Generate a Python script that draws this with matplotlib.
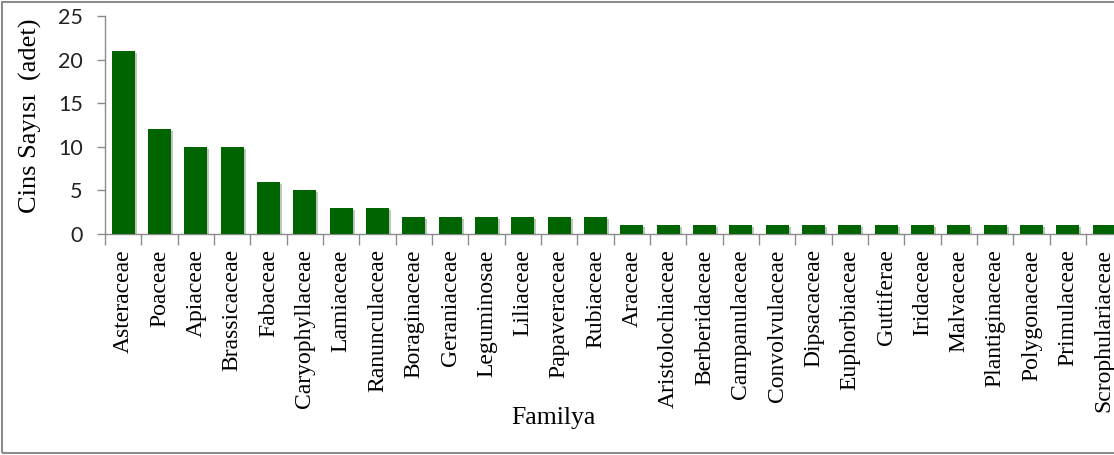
import matplotlib
matplotlib.use("Agg")
import matplotlib.pyplot as plt
import matplotlib.patheffects as pe
from matplotlib.patches import Rectangle

familya = ["Asteraceae", "Poaceae", "Apiaceae", "Brassicaceae", "Fabaceae",
           "Caryophyllaceae", "Lamiaceae", "Ranunculaceae", "Boraginaceae",
           "Geraniaceae", "Leguminosae", "Liliaceae", "Papaveraceae", "Rubiaceae",
           "Araceae", "Aristolochiaceae", "Berberidaceae", "Campanulaceae",
           "Convolvulaceae", "Dipsacaceae", "Euphorbiaceae", "Guttiferae",
           "Iridaceae", "Malvaceae", "Plantiginaceae", "Polygonaceae",
           "Primulaceae", "Scrophulariaceae"]
cins_sayisi = [21, 12, 10, 10, 6, 5, 3, 3, 2, 2, 2, 2, 2, 2,
               1, 1, 1, 1, 1, 1, 1, 1, 1, 1, 1, 1, 1, 1]
y_ticks = [0, 5, 10, 15, 20, 25]

W, H = 1114, 455
fig = plt.figure(figsize=(W / 100, H / 100), dpi=100)

# border around the whole figure (right side is cut off like the original)
fig.patches.append(Rectangle((2 / W, 2 / H), 1.2, 1 - 4 / H, transform=fig.transFigure,
                             fill=False, edgecolor="#8c8c8c", linewidth=1.5))

n = len(familya)
step = 36.33
ax = fig.add_axes([105 / W, (H - 234) / H, n * step / W, 218 / H])

x = list(range(n))
ax.bar(x, cins_sayisi, width=0.63, color="#006400", zorder=3,
       path_effects=[pe.SimplePatchShadow(offset=(1.5, -1.5), alpha=0.25), pe.Normal()])

ax.set_xlim(-0.5, n - 0.5)
ax.set_ylim(0, 25)
ax.set_yticks(y_ticks)
ax.set_yticklabels([str(v) for v in y_ticks], fontfamily="Lato", fontsize=15.5, color="#222222")

ax.set_xticks([i - 0.5 for i in range(n + 1)])
ax.set_xticklabels([])
ax.set_xticks(x, minor=True)
ax.set_xticklabels(familya, minor=True, rotation=90, fontfamily="Liberation Serif",
                   fontsize=17, va="top", ha="center")
ax.tick_params(axis="x", which="major", length=8, color="#8c8c8c", width=1)
ax.tick_params(axis="x", which="minor", length=0, pad=11)
ax.tick_params(axis="y", length=6, color="#8c8c8c", width=1, pad=10)

for s in ["top", "right"]:
    ax.spines[s].set_visible(False)
for s in ["left", "bottom"]:
    ax.spines[s].set_color("#8c8c8c")
    ax.spines[s].set_linewidth(1)

fig.text(30 / W, 1 - 116 / H, "Cins Sayısı  (adet)", rotation=90, ha="center", va="center",
         fontfamily="Liberation Serif", fontsize=19)
fig.text(553 / W, 1 - 418 / H, "Familya", ha="center", va="center",
         fontfamily="Liberation Serif", fontsize=18.5)

fig.savefig("out.png", dpi=100)
